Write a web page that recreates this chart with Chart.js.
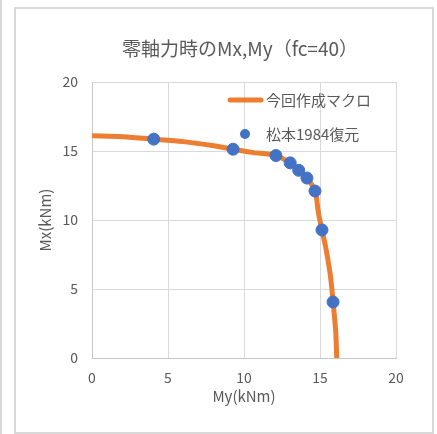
<!DOCTYPE html>
<html><head><meta charset="utf-8">
<script src="https://cdn.jsdelivr.net/npm/chart.js@4/dist/chart.umd.min.js"></script>
<style>html,body{margin:0;padding:0;background:#fff;overflow:hidden}canvas{display:block}</style>
</head><body>
<canvas id="c" width="437" height="434"></canvas>
<script>
const chartTitle = '零軸力時のMx,My（fc=40）';
const seriesNames = ['今回作成マクロ', '松本1984復元'];
const xTitle = 'My(kNm)';
const yTitle = 'Mx(kNm)';
const xTicks = [0, 5, 10, 15, 20];
const yTicks = [0, 5, 10, 15, 20];
// curve (今回作成マクロ)
const curveMy = [0, 2, 4.06, 6, 8, 9.28, 10.5, 12.1, 13.04, 13.6, 14.14, 14.67, 14.9, 15.13, 15.38, 15.68, 15.86, 16.03, 16.1];
const curveMx = [16.1, 16.03, 15.86, 15.68, 15.38, 15.13, 14.9, 14.67, 14.14, 13.6, 13.04, 12.1, 10.5, 9.28, 8, 6, 4.06, 2, 0];
// points (松本1984復元)
const ptMy = [4.06, 9.28, 12.1, 13.04, 13.6, 14.14, 14.67, 15.13, 15.86];
const ptMx = [15.86, 15.13, 14.67, 14.14, 13.6, 13.04, 12.1, 9.28, 4.06];

const FONT = '"Noto Sans CJK JP", "Noto Sans", sans-serif';
const TXT = '#595959';
const ORANGE = '#ED7D31';
const BLUE = '#4472C4';

const frame = {
  id: 'frame',
  beforeDraw(chart) {
    const ctx = chart.ctx;
    ctx.save();
    ctx.fillStyle = '#fff';
    ctx.fillRect(0, 0, chart.width, chart.height);
    ctx.strokeStyle = '#d9d9d9';
    ctx.lineWidth = 2;
    ctx.strokeRect(15, 8, 418, 425);
    ctx.beginPath(); ctx.moveTo(1, 0); ctx.lineTo(1, 434); ctx.stroke();
    ctx.restore();
  },
  afterDraw(chart) {
    const ctx = chart.ctx;
    ctx.save();
    ctx.fillStyle = TXT;
    ctx.textBaseline = 'middle';
    ctx.textAlign = 'center';
    ctx.font = '19px ' + FONT;
    ctx.fillText(chartTitle, 240, 49);
    // legend
    ctx.textAlign = 'left';
    ctx.font = '15px ' + FONT;
    ctx.strokeStyle = ORANGE; ctx.lineWidth = 5; ctx.lineCap = 'round';
    ctx.beginPath(); ctx.moveTo(230, 100); ctx.lineTo(261, 100); ctx.stroke();
    ctx.fillText(seriesNames[0], 266, 100);
    ctx.fillStyle = BLUE;
    ctx.beginPath(); ctx.arc(245, 134, 5, 0, Math.PI * 2); ctx.fill();
    ctx.fillStyle = TXT;
    ctx.fillText(seriesNames[1], 266, 134);
    ctx.restore();
  }
};

new Chart(document.getElementById('c'), {
  type: 'scatter',
  data: {
    datasets: [
      {
        label: seriesNames[1],
        data: ptMy.map((v, i) => ({x: v, y: ptMx[i]})),
        backgroundColor: BLUE, borderColor: BLUE,
        pointRadius: 6, pointHoverRadius: 6, showLine: false, order: 0
      },
      {
        label: seriesNames[0],
        data: curveMy.map((v, i) => ({x: v, y: curveMx[i]})),
        borderColor: ORANGE, backgroundColor: ORANGE, borderWidth: 5,
        pointRadius: 0, showLine: true, tension: 0.3, order: 1
      }
    ]
  },
  options: {
    responsive: false, animation: false,
    layout: {padding: {left: 15, right: 41, top: 82, bottom: 0}},
    plugins: {legend: {display: false}, tooltip: {enabled: false}, title: {display: false}},
    scales: {
      x: {
        type: 'linear', min: 0, max: 20,
        afterBuildTicks: s => { s.ticks = xTicks.map(v => ({value: v})); },
        afterFit: s => { s.height = 76; },
        grid: {color: '#d9d9d9', drawTicks: false},
        border: {color: '#c8c8c8', width: 1},
        ticks: {color: TXT, font: {family: FONT, size: 14}, padding: 11},
        title: {display: true, text: xTitle, color: TXT, font: {family: FONT, size: 15}, padding: {top: 0, bottom: 29}}
      },
      y: {
        type: 'linear', min: 0, max: 20,
        afterBuildTicks: s => { s.ticks = yTicks.map(v => ({value: v})); },
        afterFit: s => { s.width = 77; },
        grid: {color: '#d9d9d9', drawTicks: false},
        border: {color: '#c8c8c8', width: 1},
        ticks: {color: TXT, font: {family: FONT, size: 14}, padding: 14},
        title: {display: true, text: yTitle, color: TXT, font: {family: FONT, size: 15}, padding: {top: 21, bottom: 0}}
      }
    }
  },
  plugins: [frame]
});
</script>
</body></html>
